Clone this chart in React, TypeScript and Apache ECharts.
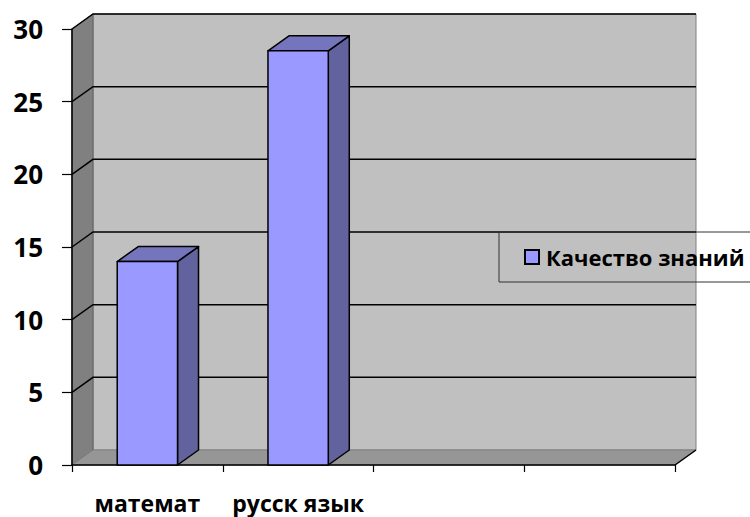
import React, { useEffect, useRef } from "react";
import * as echarts from "echarts";

const categories = ["математ", "русск язык", "", ""];
const seriesName = "Качество знаний";
const values = [14, 28.5];
const yTicks = [5, 10, 15, 20, 25, 30];
const yMin = 0;
const yMax = 30;
const yStep = 5;

const DX = 21;
const DY = -15;
const FONT = "'Open Sans', 'Noto Sans', sans-serif";

export default function App() {
  const ref = useRef<HTMLDivElement>(null);
  useEffect(() => {
    if (!ref.current) return;
    const chart = echarts.init(ref.current, null, { renderer: "svg" });

    const barData = values.map((v, i) => [i, v]);

    const option: any = {
      animation: false,
      backgroundColor: "#ffffff",
      grid: { left: 72, right: 75, top: 29, bottom: 52, containLabel: false },
      legend: {
        data: [
          {
            name: seriesName,
            icon: "rect",
            itemStyle: { color: "#9999FF", borderColor: "#000000", borderWidth: 2 },
          },
        ],
        left: 499,
        top: 232,
        orient: "vertical",
        itemWidth: 14,
        itemHeight: 14,
        padding: [14, 40, 14, 25],
        borderColor: "#333333",
        borderWidth: 1,
        backgroundColor: "transparent",
        textStyle: {
          fontFamily: FONT,
          fontWeight: "bold",
          fontSize: 22,
          color: "#000000",
          lineHeight: 22,
          padding: [0, 0, 0, 2],
        },
        z: 10,
      },
      xAxis: {
        type: "category",
        data: categories,
        boundaryGap: true,
        z: 3,
        axisLine: { show: true, lineStyle: { color: "#000000", width: 1.5 } },
        axisTick: { show: true, length: 7, lineStyle: { color: "#000000", width: 1.2 } },
        axisLabel: {
          fontFamily: FONT,
          fontWeight: "bold",
          fontSize: 23,
          color: "#000000",
          margin: 26,
          interval: 0,
        },
        splitLine: { show: false },
      },
      yAxis: {
        type: "value",
        min: yMin,
        max: yMax,
        interval: yStep,
        z: 3,
        axisLine: { show: true, lineStyle: { color: "#000000", width: 1.5 } },
        axisTick: { show: true, length: 10, lineStyle: { color: "#000000", width: 1.2 } },
        axisLabel: {
          fontFamily: FONT,
          fontWeight: "bold",
          fontSize: 26,
          color: "#000000",
          margin: 29,
        },
        splitLine: { show: false },
      },
      series: [
        {
          type: "custom",
          name: "walls",
          z: 1,
          silent: true,
          data: [[0, 0]],
          renderItem: (params: any, api: any) => {
            const bw = api.size([1, 0])[0];
            const left = api.coord([0, yMin])[0] - bw / 2;
            const right = api.coord([categories.length - 1, yMin])[0] + bw / 2;
            const yb = api.coord([0, yMin])[1];
            const yt = api.coord([0, yMax])[1];
            const children: any[] = [];
            children.push({
              type: "polygon",
              shape: {
                points: [
                  [left + DX, yt + DY],
                  [right + DX, yt + DY],
                  [right + DX, yb + DY],
                  [left + DX, yb + DY],
                ],
              },
              style: { fill: "#C0C0C0", stroke: "#808080", lineWidth: 1 },
            });
            children.push({
              type: "polygon",
              shape: {
                points: [
                  [left, yt],
                  [left + DX, yt + DY],
                  [left + DX, yb + DY],
                  [left, yb],
                ],
              },
              style: { fill: "#808080", stroke: "#606060", lineWidth: 1 },
            });
            children.push({
              type: "polygon",
              shape: {
                points: [
                  [left, yb],
                  [right, yb],
                  [right + DX, yb + DY],
                  [left + DX, yb + DY],
                ],
              },
              style: { fill: "#969696", stroke: "#808080", lineWidth: 1 },
            });
            children.push({
              type: "line",
              shape: { x1: right, y1: yb, x2: right + DX, y2: yb + DY },
              style: { stroke: "#000000", lineWidth: 1.5 },
            });
            yTicks.forEach((t) => {
              const y = api.coord([0, t])[1];
              children.push({
                type: "polyline",
                shape: {
                  points: [
                    [left, y],
                    [left + DX, y + DY],
                    [right + DX, y + DY],
                  ],
                },
                style: { fill: null, stroke: "#000000", lineWidth: 1.5 },
              });
            });
            return { type: "group", children };
          },
        },
        {
          type: "custom",
          name: seriesName,
          z: 5,
          data: barData,
          encode: { x: 0, y: 1 },
          itemStyle: { color: "#9999FF" },
          renderItem: (params: any, api: any) => {
            const cat = api.value(0);
            const val = api.value(1);
            const p0 = api.coord([cat, yMin]);
            const p1 = api.coord([cat, val]);
            const bw = api.size([1, 0])[0] * 0.4;
            const x0 = p0[0] - bw / 2;
            const x1 = x0 + bw;
            const yb = p0[1];
            const yt = p1[1];
            const stroke = { stroke: "#000000", lineWidth: 1.5, lineJoin: "round" };
            return {
              type: "group",
              children: [
                {
                  type: "polygon",
                  shape: { points: [[x1, yt], [x1 + DX, yt + DY], [x1 + DX, yb + DY], [x1, yb]] },
                  style: { fill: "#62629F", ...stroke },
                },
                {
                  type: "polygon",
                  shape: { points: [[x0, yt], [x1, yt], [x1 + DX, yt + DY], [x0 + DX, yt + DY]] },
                  style: { fill: "#7575BE", ...stroke },
                },
                {
                  type: "rect",
                  shape: { x: x0, y: yt, width: bw, height: yb - yt },
                  style: { fill: "#9999FF", ...stroke },
                },
              ],
            };
          },
        },
      ],
    };

    chart.setOption(option);
    return () => chart.dispose();
  }, []);

  return (
    <div
      ref={ref}
      style={{ position: "fixed", left: 0, top: 0, width: 750, height: 517 }}
    />
  );
}
